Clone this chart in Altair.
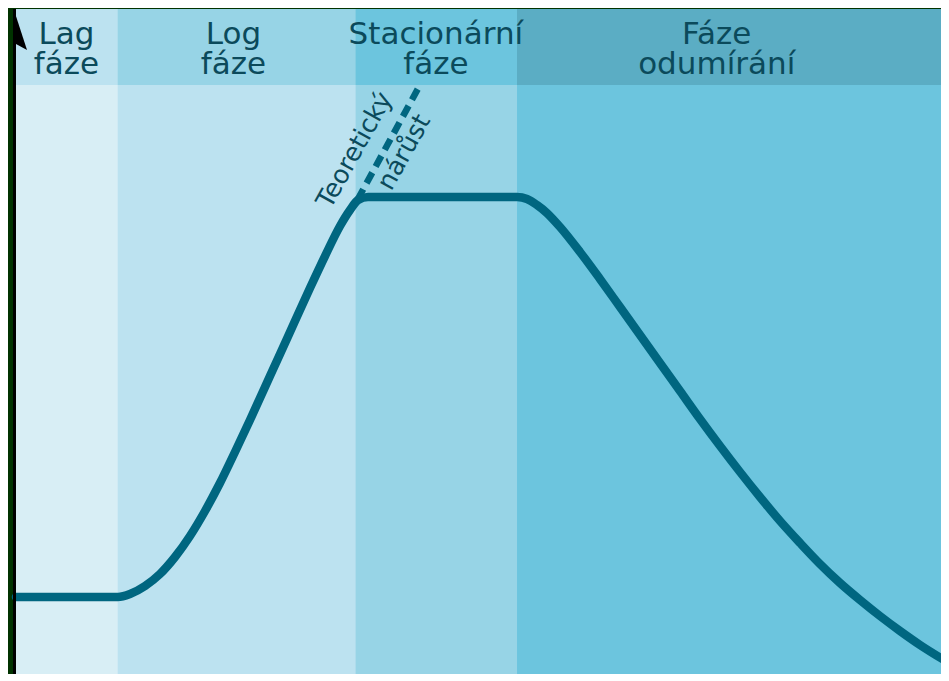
import altair as alt
import pandas as pd

# Phase regions (time axis, arbitrary units)
phase_names = ["Lag", "Log", "Stacionární", "Odumírání"]
phase_start = [0, 10.9, 36.4, 53.7]
phase_end = [10.9, 36.4, 53.7, 100]
body_colors = ["#d8eef5", "#bce2f0", "#97d4e6", "#6cc5de"]
header_colors = ["#bce2f0", "#97d4e6", "#6cc5de", "#5badc4"]
header_bottom = 88.7
header_top = 100

# Header labels (two lines each)
phase_labels = ["Lag\nfáze", "Log\nfáze", "Stacionární\nfáze", "Fáze\nodumírání"]
label_x = [5.4, 23.3, 45.0, 75.1]
label_y = [94.8, 94.8, 94.8, 94.8]

# Growth curve (log of cell count)
curve_t = [0, 10.93, 12.22, 13.83, 15.43, 17.04, 18.65, 20.26, 21.86, 23.47,
           25.08, 26.69, 28.30, 29.90, 31.51, 33.12, 34.73, 35.80, 36.66, 37.73,
           53.70, 54.77, 55.84, 56.91, 58.31, 60.45, 62.59, 64.74, 66.88, 69.02,
           71.17, 73.31, 75.46, 77.60, 79.74, 81.89, 84.03, 86.17, 88.32, 90.46,
           92.60, 94.75, 96.89, 100]
curve_n = [12.5, 12.5, 12.95, 14.14, 15.92, 18.45, 21.58, 25.30, 29.46, 34.08,
           38.84, 43.75, 48.66, 53.57, 58.48, 63.24, 67.71, 70.09, 71.58, 72.02,
           72.02, 71.73, 70.83, 69.64, 67.56, 63.84, 59.82, 55.65, 51.49, 47.32,
           43.15, 38.99, 34.97, 31.10, 27.38, 23.81, 20.54, 17.41, 14.58, 12.05,
           9.67, 7.44, 5.36, 2.68]

# Theoretical growth (dashed extension)
theory_t = [36.6, 43.3]
theory_n = [71.6, 88.7]
theory_label = ["Teoretický", "nárůst"]
theory_label_t = [36.3, 41.6]
theory_label_n = [79.0, 78.7]

W, H = 925, 665
xs = alt.Scale(domain=[0, 99.14], nice=False, zero=False)
ys = alt.Scale(domain=[1.04, 100], nice=False, zero=False)

n_ph = len(phase_names)
# each band is drawn from its start to the right edge; later bands cover earlier ones
bodies_df = pd.DataFrame({"x0": phase_start, "x1": [100] * n_ph,
                          "y0": [0] * n_ph, "y1": [header_top] * n_ph,
                          "c": body_colors})
heads_df = pd.DataFrame({"x0": phase_start, "x1": [100] * n_ph,
                         "y0": [header_bottom] * n_ph, "y1": [header_top] * n_ph,
                         "c": header_colors})
bodies = alt.Chart(bodies_df).mark_rect(clip=True).encode(
    x=alt.X("x0:Q", scale=xs, axis=None), x2="x1:Q",
    y=alt.Y("y0:Q", scale=ys, axis=None), y2="y1:Q",
    color=alt.Color("c:N", scale=None))
heads = alt.Chart(heads_df).mark_rect(clip=True).encode(
    x=alt.X("x0:Q", scale=xs, axis=None), x2="x1:Q",
    y=alt.Y("y0:Q", scale=ys, axis=None), y2="y1:Q",
    color=alt.Color("c:N", scale=None))

labels = pd.DataFrame({"text": phase_labels, "x": label_x, "y": label_y})
label_marks = alt.Chart(labels).mark_text(
    font="DejaVu Sans", fontSize=31, color="#0b4a5b", align="center",
    baseline="alphabetic", lineBreak="\n", lineHeight=30).encode(
    x=alt.X("x:Q", scale=xs, axis=None), y=alt.Y("y:Q", scale=ys, axis=None),
    text="text:N")

theory = pd.DataFrame({"t": theory_t, "n": theory_n})
dashed = alt.Chart(theory).mark_line(
    color="#006680", strokeWidth=6.5, strokeDash=[12, 7]).encode(
    x=alt.X("t:Q", scale=xs, axis=None), y=alt.Y("n:Q", scale=ys, axis=None))

tl = pd.DataFrame({"text": theory_label, "t": theory_label_t, "n": theory_label_n})
theory_text = alt.Chart(tl).mark_text(
    font="DejaVu Sans", fontSize=25.5, color="#0b4a5b", angle=299,
    align="center", baseline="middle").encode(
    x=alt.X("t:Q", scale=xs, axis=None), y=alt.Y("n:Q", scale=ys, axis=None),
    text="text:N")

curve = pd.DataFrame({"t": curve_t, "n": curve_n})
line = alt.Chart(curve).mark_line(
    color="#006680", strokeWidth=8.5, interpolate="monotone",
    strokeCap="round", strokeJoin="round").encode(
    x=alt.X("t:Q", scale=xs, axis=None), y=alt.Y("n:Q", scale=ys, axis=None))

axis_df = pd.DataFrame({"t": [0], "n0": [1.04], "n1": [100]})
axis_line = alt.Chart(axis_df).mark_rule(
    color="black", strokeWidth=3, xOffset=-1.5).encode(
    x=alt.X("t:Q", scale=xs, axis=None),
    y=alt.Y("n0:Q", scale=ys, axis=None), y2="n1:Q")
arrow_df = pd.DataFrame({"t": [0], "n": [100]})
arrow = alt.Chart(arrow_df).mark_point(
    shape="M0,-1L0.65,1L0.1,0.7Z", size=1600, filled=True, color="black",
    opacity=1, xOffset=-2, yOffset=21).encode(
    x=alt.X("t:Q", scale=xs, axis=None), y=alt.Y("n:Q", scale=ys, axis=None))

chart = alt.layer(bodies, heads, dashed, line, label_marks, theory_text,
                  axis_line, arrow).properties(
    width=W, height=H,
    autosize=alt.AutoSizeParams(type="none"),
    padding={"left": 8, "top": 1, "right": 0, "bottom": 0},
    background="#013300",
).configure_view(strokeOpacity=0)

chart.save("out.html", embed_options={"renderer": "svg", "actions": False})
